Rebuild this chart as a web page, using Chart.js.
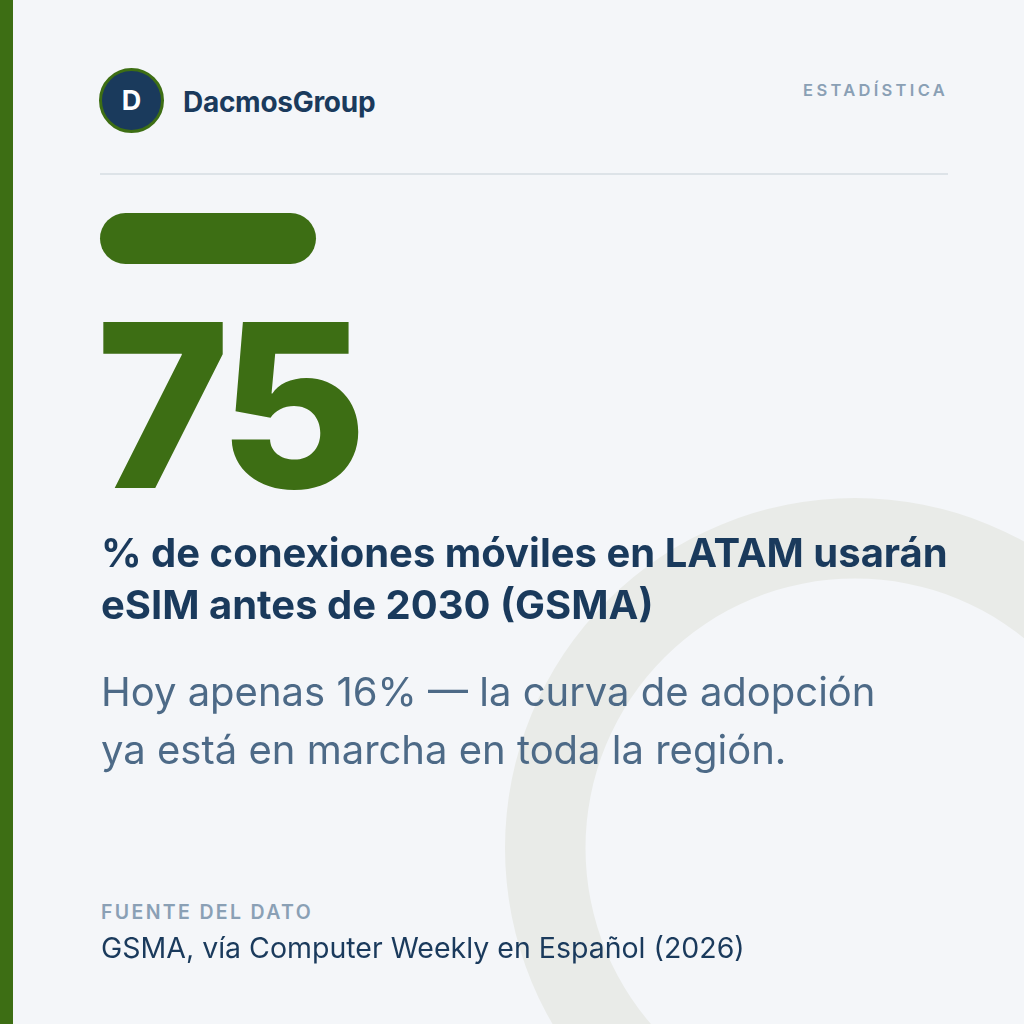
<!DOCTYPE html>
<html lang="es">
<head>
<meta charset="utf-8">
<title>DacmosGroup - eSIM LATAM</title>
<script src="https://cdn.jsdelivr.net/npm/chart.js@4/dist/chart.umd.min.js"></script>
<style>
  html, body { margin: 0; padding: 0; }
  body {
    width: 1024px; height: 1024px; overflow: hidden; position: relative;
    background: #f4f6f9; font-family: Inter, "Noto Sans", sans-serif;
  }
  .abs { position: absolute; white-space: nowrap; }
  #side { left: 0; top: 0; width: 13px; height: 1024px; background: #3d6e14; }
  #ringBox { position: absolute; left: 505px; top: 498px; width: 700px; height: 700px; }
  #logo {
    left: 99px; top: 68px; width: 59px; height: 59px; border-radius: 50%;
    background: #1a3a5c; border: 3px solid #3d6e14; color: #fff;
    font-weight: 700; font-size: 27px; line-height: 59px; text-align: center;
  }
  #brand { left: 183px; top: 86px; font-size: 28px; line-height: 32px; font-weight: 700; color: #1a3a5c; letter-spacing: -0.01em; }
  #tag { right: 76px; top: 80px; font-size: 16.5px; line-height: 20px; font-weight: 600; color: #8aa0b5; letter-spacing: 0.2em; }
  #rule { left: 100px; top: 173px; width: 848px; height: 2px; background: #dde3e8; }
  #pill { left: 100px; top: 213px; width: 216px; height: 51px; border-radius: 26px; background: #3d6e14; }
  #big { left: 96px; top: 291px; font-size: 228px; line-height: 228px; font-weight: 800; color: #3d6e14; letter-spacing: -0.04em; }
  #head { left: 101px; top: 527px; font-size: 40px; line-height: 52px; font-weight: 700; color: #1a3a5c; }
  #sub { left: 101px; top: 663px; font-size: 40px; line-height: 58px; font-weight: 400; color: #4d6a87; }
  #srcLabel { left: 101px; top: 900px; font-size: 19.5px; line-height: 24px; font-weight: 600; color: #8aa0b5; letter-spacing: 0.12em; }
  #src { left: 101px; top: 931px; font-size: 28.5px; line-height: 34px; font-weight: 400; color: #1a3a5c; }
</style>
</head>
<body>
<div id="ringBox"><canvas id="ring" width="700" height="700"></canvas></div>
<div class="abs" id="side"></div>
<div class="abs" id="logo">D</div>
<div class="abs" id="brand">DacmosGroup</div>
<div class="abs" id="tag">ESTADÍSTICA</div>
<div class="abs" id="rule"></div>
<div class="abs" id="pill"></div>
<div class="abs" id="big"></div>
<div class="abs" id="head"></div>
<div class="abs" id="sub"></div>
<div class="abs" id="srcLabel">FUENTE DEL DATO</div>
<div class="abs" id="src"></div>
<script>
// headline figures
const shareBy2030 = 75;
const shareToday = 16;
const headlineLines = ["% de conexiones móviles en LATAM usarán", "eSIM antes de 2030 (GSMA)"];
const subLines = ["Hoy apenas " + shareToday + "% — la curva de adopción", "ya está en marcha en toda la región."];
const sourceText = "GSMA, vía Computer Weekly en Español (2026)";

// decorative ring, drawn as a one-slice doughnut
const ringLabels = ["anillo"];
const ringValues = [100];
const ringColors = ["#e9ebe8"];

document.getElementById("big").textContent = shareBy2030;
document.getElementById("head").innerHTML = headlineLines.join("<br>");
document.getElementById("sub").innerHTML = subLines.join("<br>");
document.getElementById("src").textContent = sourceText;

const ctx = document.getElementById("ring").getContext("2d");
new Chart(ctx, {
  type: "doughnut",
  data: {
    labels: ringLabels,
    datasets: [
      {
        data: ringValues,
        backgroundColor: ringColors,
        borderWidth: 0
      }
    ]
  },
  options: {
    cutout: "77%",
    responsive: false,
    animation: false,
    events: [],
    layout: { padding: 0 },
    plugins: {
      legend: { display: false },
      tooltip: { enabled: false }
    }
  }
});
</script>
</body>
</html>
